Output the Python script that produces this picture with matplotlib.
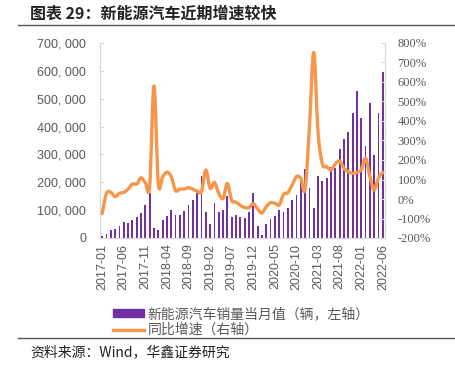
import numpy as np
import matplotlib
matplotlib.use("Agg")
import matplotlib.pyplot as plt
from matplotlib.path import Path
from matplotlib.patches import PathPatch
from matplotlib.lines import Line2D
from matplotlib.ticker import FuncFormatter

plt.rcParams['font.family'] = ['Noto Sans CJK SC', 'DejaVu Sans']

# monthly data 2017-01 .. 2022-06
months = [f"{y}-{m:02d}" for y in range(2017, 2023) for m in range(1, 13)][:66]

sales = [5700, 14000, 28000, 31000, 42000, 57000, 53000, 65000, 75000, 89000, 117000, 161000,
         36000, 30000, 64000, 78000, 100000, 82000, 82000, 97000, 119000, 135000, 162000, 222000,
         93000, 50000, 124000, 94000, 100000, 150000, 77000, 83000, 77000, 71000, 93000, 161000,
         42000, 10000, 50000, 69000, 78000, 100000, 95000, 106000, 135000, 156000, 202000, 247000,
         180000, 106000, 222000, 203000, 215000, 255000, 253000, 319000, 355000, 382000, 449000, 529000,
         431000, 331000, 483000, 297000, 447000, 595000]

yoy = [-75, 29, 34, 12, 29, 34, 50, 77, 77, 109, 84, 67,
       580, 80, 114, 138, 114, 43, 51, 51, 58, 50, 41, 38,
       149, 55, 85, 29, 3, 80, -7, -16, -33, -44, -44, -24,
       -51, -72, -39, -19, -22, -31, 24, 32, 72, 115, 106, 50,
       370, 752, 340, 180, 166, 149, 180, 195, 157, 140, 132, 137,
       150, 209, 115, 46, 108, 137]

label_bar = "新能源汽车销量当月值（辆，左轴）"
label_line = "同比增速（右轴）"
tick_step = 5

bar_color = '#7030A0'
line_color = '#F7964A'
grey = '#595959'
spine_grey = '#D9D9D9'


def smooth_path(x, y):
    # Catmull-Rom style smoothing drawn as cubic bezier segments
    pts = np.column_stack([x, y]).astype(float)
    verts = [pts[0]]
    codes = [Path.MOVETO]
    n = len(pts)
    for i in range(n - 1):
        p0 = pts[i - 1] if i > 0 else pts[i]
        p1 = pts[i]
        p2 = pts[i + 1]
        p3 = pts[i + 2] if i + 2 < n else pts[i + 1]
        c1 = p1 + (p2 - p0) / 6.0
        c2 = p2 - (p3 - p1) / 6.0
        verts += [c1, c2, p2]
        codes += [Path.CURVE4] * 3
    return Path(verts, codes)


fig = plt.figure(figsize=(4.55, 3.72), dpi=100)
ax = fig.add_axes([100 / 455, 1 - 238 / 372, 285 / 455, 195 / 372])
ax2 = ax.twinx()

x = np.arange(len(sales))
ax.bar(x, sales, width=0.42, color=bar_color, zorder=2)
ax.set_ylim(0, 700000)
ax.set_yticks(range(0, 700001, 100000))
ax.yaxis.set_major_formatter(FuncFormatter(lambda v, p: f"{int(v):,}".replace(",", ", ")))
ax.set_xlim(-0.5, len(sales) - 0.5)
ax.set_xticks(x[::tick_step])
ax.set_xticklabels(months[::tick_step], rotation=90, family='Liberation Sans')

patch = PathPatch(smooth_path(x, yoy), facecolor='none', edgecolor=line_color,
                  lw=2.4, capstyle='round', joinstyle='round', zorder=3)
ax2.add_patch(patch)
ax2.set_ylim(-200, 800)
ax2.set_yticks(range(-200, 801, 100))
ax2.yaxis.set_major_formatter(FuncFormatter(lambda v, p: f"{int(v)}%"))

for a in (ax, ax2):
    a.spines['top'].set_visible(False)
    for s in ('left', 'right', 'bottom'):
        a.spines[s].set_color(spine_grey)
ax.tick_params(axis='y', direction='in', length=3, color=spine_grey, labelcolor=grey, labelsize=9, pad=10)
ax.tick_params(axis='x', length=0, labelcolor=grey, labelsize=9, pad=4)
ax2.tick_params(axis='y', direction='in', length=3, color=spine_grey, labelcolor=grey, labelsize=9, pad=9)
for t in ax.get_yticklabels():
    t.set_family('Liberation Sans')
for t in ax2.get_yticklabels():
    t.set_family('Liberation Serif')

handles = [plt.Rectangle((0, 0), 1, 1, color=bar_color),
           Line2D([], [], color=line_color, lw=2.4)]
leg = fig.legend(handles, [label_bar, label_line], loc='upper left',
                 bbox_to_anchor=(106 / 455, 1 - 300 / 372), frameon=False,
                 fontsize=10, handlelength=2.2, handleheight=0.45, handletextpad=0.3,
                 labelspacing=0.15, borderpad=0, labelcolor=grey)

fig.text(30 / 455, 1 - 14 / 372, "图表 29：新能源汽车近期增速较快", fontsize=11.5,
         fontweight='bold', va='center', ha='left', color='#222222')
fig.add_artist(Line2D([18 / 455, 1], [1 - 25 / 372] * 2, color='#555555', lw=1))
fig.add_artist(Line2D([18 / 455, 1], [1 - 338 / 372] * 2, color='#555555', lw=1))
fig.text(30 / 455, 1 - 352 / 372, "资料来源：Wind，华鑫证券研究", fontsize=10,
         va='center', ha='left', color='#222222')

fig.savefig("out.png", dpi=100)
